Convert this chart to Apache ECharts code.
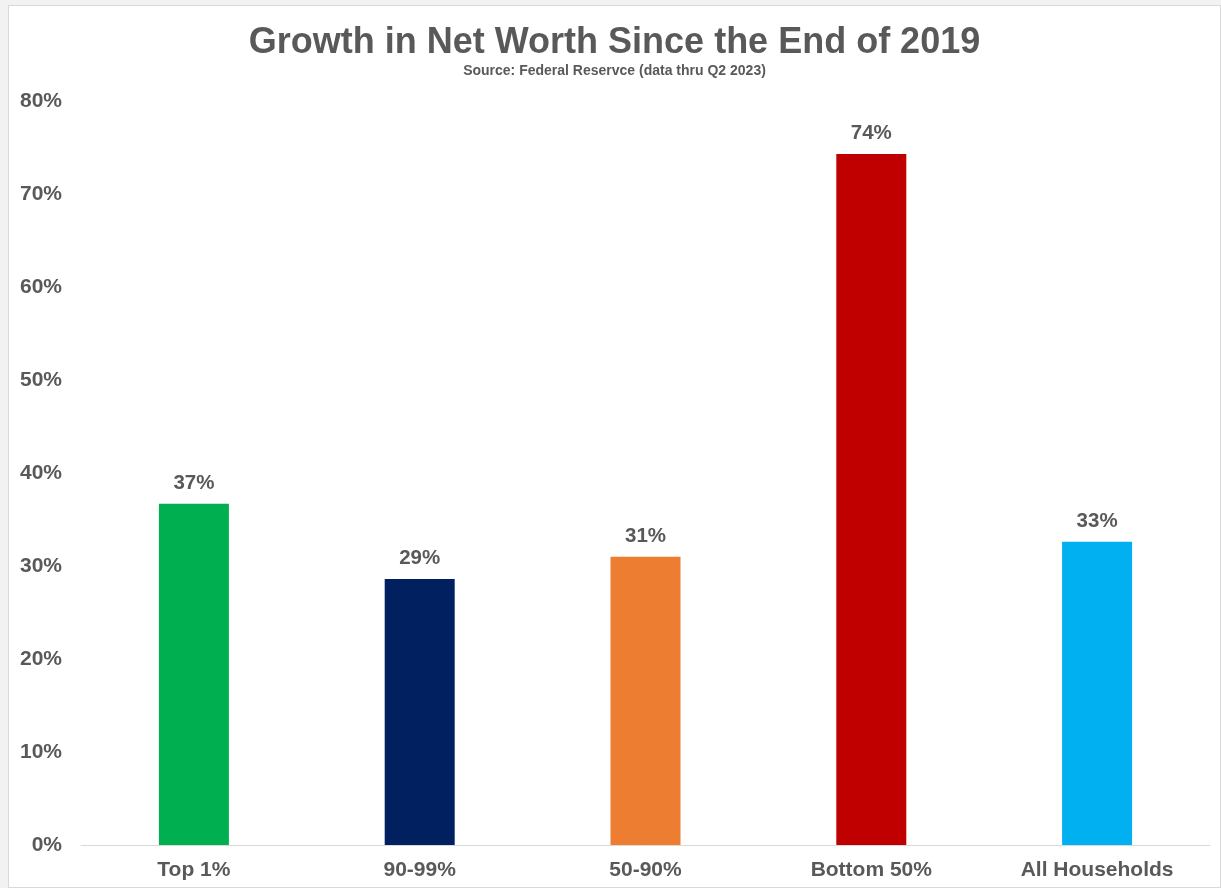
<!DOCTYPE html>
<html><head><meta charset="utf-8">
<script src="https://cdn.jsdelivr.net/npm/echarts@6/dist/echarts.min.js"></script>
<style>html,body{margin:0;padding:0;background:#f2f2f2;}#c{position:absolute;left:8px;top:5px;width:1213px;height:883px;background:#fff;border:1px solid #d9d9d9;box-sizing:border-box;}</style>
</head><body><div id="c"></div>
<script>
const categories = ['Top 1%', '90-99%', '50-90%', 'Bottom 50%', 'All Households'];
const values = [36.7, 28.6, 31.0, 74.3, 32.6];
const colors = ['#00B050', '#002060', '#ED7D31', '#C00000', '#00B0F0'];
const chart = echarts.init(document.getElementById('c'));
const txt = '#595959';
chart.setOption({
  animation: false,
  title: {
    text: 'Growth in Net Worth Since the End of 2019',
    subtext: 'Source: Federal Reservce (data thru Q2 2023)',
    left: 'center', top: 14, itemGap: 3,
    textStyle: {fontFamily: 'Liberation Sans', fontWeight: 'bold', fontSize: 36, color: txt},
    subtextStyle: {fontFamily: 'Liberation Sans', fontWeight: 'bold', fontSize: 14, color: txt}
  },
  grid: {left: 72, right: 10, top: 95, bottom: 42},
  xAxis: {
    type: 'category', data: categories,
    axisLine: {lineStyle: {color: '#d9d9d9'}},
    axisTick: {show: false},
    axisLabel: {fontFamily: 'Liberation Sans', fontWeight: 'bold', fontSize: 21, color: txt, margin: 15}
  },
  yAxis: {
    type: 'value', min: 0, max: 80, interval: 10,
    splitLine: {show: false},
    axisLine: {show: false},
    axisLabel: {formatter: '{value}%', fontFamily: 'Liberation Sans', fontWeight: 'bold', fontSize: 21, color: txt, margin: 19}
  },
  series: [{
    type: 'bar', barWidth: '31%',
    data: values.map((v, i) => ({value: v, itemStyle: {color: colors[i]}})),
    label: {show: true, position: 'top', distance: 10, formatter: p => Math.round(p.value) + '%',
      fontFamily: 'Liberation Sans', fontWeight: 'bold', fontSize: 20.5, color: txt}
  }]
});
</script></body></html>
